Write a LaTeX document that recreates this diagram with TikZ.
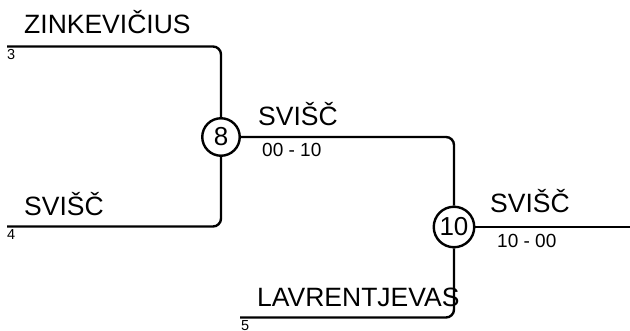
\documentclass[tikz,border=0pt]{standalone}
\usepackage{fontspec}
\setmainfont{Liberation Sans}
\begin{document}
\begin{tikzpicture}[x=1pt,y=-1pt,
  conn/.style={line width=2.4pt, rounded corners=8pt},
  lbl/.style={anchor=base west, inner sep=0pt, font=\fontsize{26.5}{30}\selectfont},
  seed/.style={anchor=base west, inner sep=0pt, font=\fontsize{14.5}{16}\selectfont},
  score/.style={anchor=base west, inner sep=0pt, font=\fontsize{19}{22}\selectfont},
  match/.style={circle, draw, line width=2.4pt, inner sep=0pt, fill=white, font=\fontsize{26}{30}\selectfont}]
\useasboundingbox (0,0) rectangle (630,331);
\node[match, minimum size=37.5pt] (m8) at (221,137) {8};
\node[match, minimum size=40.5pt] (m10) at (454,227) {10};
\coordinate (p3) at (7,46.5);
\coordinate (p4) at (7,226.5);
\coordinate (p5) at (240,317.5);
\coordinate (out) at (630,227);
\draw[conn] (p3) -| (m8.north);
\draw[conn] (p4) -| (m8.south);
\draw[conn] (m8.east) -| (m10.north);
\draw[conn] (p5) -| (m10.south);
\draw[conn] (m10.east) -- (out);
\node[lbl] (t1) at (24,34) {ZINKEVIČIUS};
\node[seed] (s3) at (7,59.5) {3};
\node[lbl] (t2) at (24,216) {SVIŠČ};
\node[seed] (s4) at (7,239.5) {4};
\node[lbl] (t3) at (258,126) {SVIŠČ};
\node[score] (r1) at (262,157) {00 - 10};
\node[lbl] (t4) at (490,213) {SVIŠČ};
\node[score] (r2) at (497,248) {10 - 00};
\node[lbl] (t5) at (257,307) {LAVRENTJEVAS};
\node[seed] (s5) at (241,330.5) {5};
\end{tikzpicture}
\end{document}
